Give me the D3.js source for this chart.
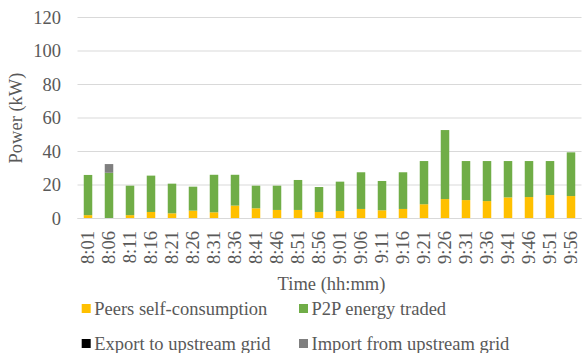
<!DOCTYPE html>
<html><head><meta charset="utf-8">
<script src="https://cdn.jsdelivr.net/npm/d3@7"></script>
<style>
html,body{margin:0;padding:0;background:#fff;}
</style></head>
<body><svg id="c" width="582" height="353"></svg>
<script>
const categories = ["8:01","8:06","8:11","8:16","8:21","8:26","8:31","8:36","8:41","8:46","8:51","8:56","9:01","9:06","9:11","9:16","9:21","9:26","9:31","9:36","9:41","9:46","9:51","9:56"];
const selfConsumption = [2,0,2,3.9,3.1,4.7,3.7,7.7,6.1,5.1,5.1,3.9,4.5,5.7,4.9,5.7,8.5,11.6,11,10.4,12.6,12.8,14,13.4];
const p2pTraded = [24,27.3,17.6,21.7,17.7,14.3,22.4,18.4,13.5,14.5,17.9,14.9,17.5,21.9,17.5,21.9,25.8,41.2,23.3,23.9,21.7,21.5,20.3,26.1];
const exportGrid = [0,0,0,0,0,0,0,0,0,0,0,0,0,0,0,0,0,0,0,0,0,0,0,0];
const importGrid = [0,5.2,0,0,0,0,0,0,0,0,0,0,0,0,0,0,0,0,0,0,0,0,0,0];
const yTicks = [0,20,40,60,80,100,120];
const seriesNames = ["Peers self-consumption","P2P energy traded","Export to upstream grid","Import from upstream grid"];
const seriesColors = ["#FFC000","#70AD47","#000000","#7F7F7F"];

const FONT = "'Liberation Serif', monospace";
const FS = 18.5;
const rows = categories.map((c,i)=>({cat:c, s0:selfConsumption[i], s1:p2pTraded[i], s2:exportGrid[i], s3:importGrid[i]}));
const keys = ["s0","s1","s2","s3"];
const stacked = d3.stack().keys(keys)(rows);

const svg = d3.select("#c");
const L = 77.5, R = 581.5, T = 17.5, B = 218.5;
const x = d3.scaleBand().domain(categories).range([L,R]).paddingInner(0.595).paddingOuter(0.2976);
const y = d3.scaleLinear().domain([0,120]).range([B,T]);

function txt(sel){ return sel.attr("font-family",FONT).attr("font-size",FS).attr("fill","#595959"); }

svg.append("g").selectAll("line").data(yTicks).join("line")
  .attr("x1",L).attr("x2",R).attr("y1",d=>y(d)).attr("y2",d=>y(d))
  .attr("stroke","#d9d9d9").attr("stroke-width",1.2);

txt(svg.append("g").selectAll("text").data(yTicks).join("text"))
  .attr("x",61).attr("y",d=>y(d)).attr("dy","0.33em").attr("text-anchor","end").text(d=>d);

svg.append("g").selectAll("g").data(stacked).join("g")
  .attr("fill",(d,i)=>seriesColors[i])
  .selectAll("rect").data(d=>d).join("rect")
  .attr("x",d=>x(d.data.cat)).attr("width",x.bandwidth())
  .attr("y",d=>y(d[1])).attr("height",d=>Math.max(0,y(d[0])-y(d[1])));

svg.append("line").attr("x1",L).attr("x2",R).attr("y1",B).attr("y2",B)
  .attr("stroke","#d9d9d9").attr("stroke-width",1.2);

txt(svg.append("g").selectAll("text").data(categories).join("text"))
  .attr("transform",d=>`translate(${x(d)+x.bandwidth()/2},231) rotate(-90)`)
  .attr("dy","0.33em").attr("text-anchor","end").text(d=>d);

txt(svg.append("text")).attr("transform","translate(16,118) rotate(-90)")
  .attr("dy","0.33em").attr("text-anchor","middle").text("Power (kW)");
txt(svg.append("text")).attr("x",331.5).attr("y",289.5).attr("text-anchor","middle").text("Time (hh:mm)");

const legPos = [[81.7,315],[299,315],[81.7,350],[299,350]];
const leg = svg.append("g").selectAll("g").data(seriesNames).join("g")
  .attr("transform",(d,i)=>`translate(${legPos[i][0]},${legPos[i][1]})`);
leg.append("rect").attr("x",0).attr("y",-11).attr("width",9).attr("height",9).attr("fill",(d,i)=>seriesColors[i]);
txt(leg.append("text")).attr("x",12.5).attr("y",0).text(d=>d);
</script></body></html>
